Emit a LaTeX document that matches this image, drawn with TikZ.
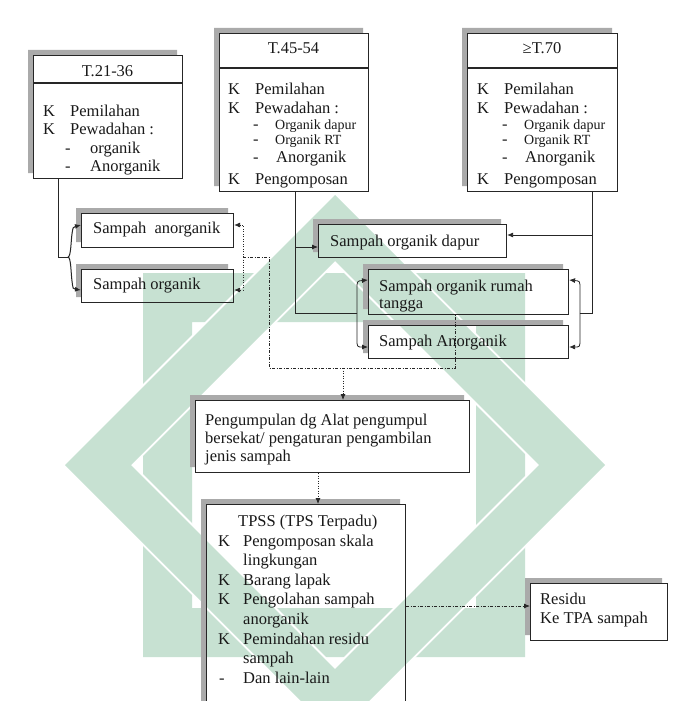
\documentclass[tikz,border=0pt]{standalone}
\usepackage{fontspec}
\setmainfont{Liberation Serif}
\usetikzlibrary{arrows.meta,calc}
\definecolor{wm}{RGB}{199,225,210}
\definecolor{shd}{RGB}{170,170,170}
\tikzset{
 boxx/.style={draw=black!85, line width=1.1pt, inner sep=0pt, anchor=north west},
 sepline/.style={draw=black!85, line width=1.1pt},
 tx/.style={font=\fontsize{16.5}{19}\selectfont, inner sep=0pt, anchor=base west, text=black!90},
 txs/.style={font=\fontsize{14}{16}\selectfont, inner sep=0pt, anchor=base west, text=black!90},
 conn/.style={draw=black!85, line width=0.8pt},
 arr/.style={conn, -{Latex[length=6pt,width=5pt]}},
 dd/.style={draw=black!85, line width=0.8pt, dash pattern=on 3pt off 1.5pt on 1pt off 1.5pt},
 dt/.style={draw=black!85, line width=0.8pt, dash pattern=on 1pt off 1.5pt},
}
\newcommand{\mkbox}[5]{%
 \fill[shd] (#2-5,#3-5) -- (#4-5,#3-5) -- (#4-5,#3) -- (#2,#3) -- (#2,#5-5) -- (#2-5,#5-5) -- cycle;
 \node[boxx, minimum width=#4-#2, minimum height=#5-#3] (#1) at (#2,#3) {};
}
\begin{document}
\begin{tikzpicture}[x=1pt,y=-1pt]
\useasboundingbox (0,0) rectangle (685,701);
\clip (0,0) rectangle (685,701);
\fill[white] (0,0) rectangle (685,701);
% watermark
\fill[wm, even odd rule] (143,273) rectangle (525,657) (192,322) rectangle (476,608);
\draw[white, line width=4pt, line join=miter] (335,195) -- (605,465) -- (335,735) -- (65,465) -- cycle;
\draw[white, line width=4pt, line join=miter] (335,261) -- (539,465) -- (335,669) -- (131,465) -- cycle;
\fill[wm, even odd rule] (335,195) -- (605,465) -- (335,735) -- (65,465) -- cycle
  (335,261) -- (539,465) -- (335,669) -- (131,465) -- cycle;
% boxes
\mkbox{A}{33}{55}{182}{178}
\mkbox{B}{219}{33}{368}{191}
\mkbox{C}{467}{33}{617}{191}
\mkbox{SA}{81}{213}{233}{247}
\mkbox{SO}{81}{269}{233}{302}
\mkbox{OD}{318}{224}{506}{257}
\mkbox{RT}{368}{269}{568}{314}
\mkbox{AN}{368}{325}{568}{358}
\mkbox{PG}{195}{400}{469}{472}
\mkbox{TP}{206}{504}{405}{720}
\mkbox{RS}{530}{583}{667}{640}
\draw[sepline] (A.west |- 0,83) -- (A.east |- 0,83);
\draw[sepline] (B.west |- 0,68) -- (B.east |- 0,68);
\draw[sepline] (C.west |- 0,68) -- (C.east |- 0,68);
% texts A
\node[tx, anchor=base] (At) at (107.5,77) {T.21-36};
\node[tx] (Ak1) at (43,116) {K}; \node[tx] (Ai1) at (70,116) {Pemilahan};
\node[tx] (Ak2) at (43,134) {K}; \node[tx] (Ai2) at (70,134) {Pewadahan :};
\node[tx] (Ad1) at (65,153) {-}; \node[tx] (Ai3) at (90,153) {organik};
\node[tx] (Ad2) at (65,171) {-}; \node[tx] (Ai4) at (90,171) {Anorganik};
% texts B
\node[tx, anchor=base] (Bt) at (293.5,54) {T.45-54};
\node[tx] (Bk1) at (228,94) {K}; \node[tx] (Bi1) at (255,94) {Pemilahan};
\node[tx] (Bk2) at (228,113) {K}; \node[tx] (Bi2) at (255,113) {Pewadahan :};
\node[tx] (Bd1) at (253,129) {-}; \node[txs] (Bi3) at (275,129) {Organik dapur};
\node[tx] (Bd2) at (253,144) {-}; \node[txs] (Bi4) at (275,144) {Organik RT};
\node[tx] (Bd3) at (253,162) {-}; \node[tx] (Bi5) at (276,162) {Anorganik};
\node[tx] (Bk3) at (228,184) {K}; \node[tx] (Bi6) at (255,184) {Pengomposan};
% texts C
\node[tx, anchor=base] (Ct) at (542,54) {≥T.70};
\node[tx] (Ck1) at (477,94) {K}; \node[tx] (Ci1) at (504,94) {Pemilahan};
\node[tx] (Ck2) at (477,113) {K}; \node[tx] (Ci2) at (504,113) {Pewadahan :};
\node[tx] (Cd1) at (502,129) {-}; \node[txs] (Ci3) at (524,129) {Organik dapur};
\node[tx] (Cd2) at (502,144) {-}; \node[txs] (Ci4) at (524,144) {Organik RT};
\node[tx] (Cd3) at (502,162) {-}; \node[tx] (Ci5) at (525,162) {Anorganik};
\node[tx] (Ck3) at (477,184) {K}; \node[tx] (Ci6) at (504,184) {Pengomposan};
% simple box texts
\node[tx] (SAt) at (93,233) {Sampah\ \ anorganik};
\node[tx] (SOt) at (93,289) {Sampah organik};
\node[tx] (ODt) at (330,246) {Sampah organik dapur};
\node[tx] (RTt1) at (379,291) {Sampah organik rumah};
\node[tx] (RTt2) at (379,308) {tangga};
\node[tx] (ANt) at (379,346) {Sampah Anorganik};
\node[tx] (PG1) at (205,425) {Pengumpulan dg Alat pengumpul};
\node[tx] (PG2) at (205,443) {bersekat/ pengaturan pengambilan};
\node[tx] (PG3) at (205,461) {jenis sampah};
\node[tx] (TPt) at (238,526) {TPSS (TPS Terpadu)};
\node[tx] (Tk1) at (218,546) {K}; \node[tx] (Ti1) at (243,546) {Pengomposan skala};
\node[tx] (Ti2) at (243,565.6) {lingkungan};
\node[tx] (Tk3) at (218,585.2) {K}; \node[tx] (Ti3) at (243,585.2) {Barang lapak};
\node[tx] (Tk4) at (218,604.8) {K}; \node[tx] (Ti4) at (243,604.8) {Pengolahan sampah};
\node[tx] (Ti5) at (243,624.4) {anorganik};
\node[tx] (Tk6) at (218,644) {K}; \node[tx] (Ti6) at (243,644) {Pemindahan residu};
\node[tx] (Ti7) at (243,663.6) {sampah};
\node[tx] (Td8) at (219,683.2) {-}; \node[tx] (Ti8) at (243,683.2) {Dan lain-lain};
\node[tx] (RS1) at (540,604) {Residu};
\node[tx] (RS2) at (540,623) {Ke TPA sampah};
% connectors left group
\coordinate (j1) at (58,257);
\coordinate (j2) at (68,257);
\draw[conn] (A.south -| j1) -- (j1) -- (j2);
\draw[arr, line width=1pt] (j2) .. controls (71,257) and (71,240) .. (72,234) .. controls (73,227) .. (SA.west |- 0,225);
\draw[arr, line width=1pt] (j2) .. controls (71,257) and (71,274) .. (72,281) .. controls (73,289) .. (SO.west |- 0,290);
\coordinate (k1) at (243,257);
\draw[arr, dt] (k1) -- (243,225) -- (SA.east |- 0,225);
\draw[arr, dt] (k1) -- (243,290) -- (SO.east |- 0,290);
\coordinate (k2) at (269,368);
\coordinate (k3) at (343,368);
\coordinate (k4) at (455,368);
\draw[dd] (k1) -- (269,257) -- (k2) -- (k4) -- (RT.south -| k4);
\draw[arr, dt] (k3) -- (PG.north -| k3);
\coordinate (k5) at (318,472);
\draw[arr, dt] (PG.south -| k5) -- (TP.north -| k5);
\draw[arr, dd] (TP.east |- 0,606) -- (RS.west |- 0,606);
% connectors right group
\coordinate (b1) at (295,313);
\coordinate (b2) at (357,313);
\draw[conn] (B.south -| b1) -- (b1) -- (b2);
\draw[arr] (295,247) -- (OD.west |- 0,247);
\coordinate (c1) at (592,313);
\coordinate (c2) at (580,313);
\draw[conn] (C.south -| c1) -- (c1) -- (c2);
\draw[arr] (592,235) -- (OD.east |- 0,235);
\draw[arr] (b2) -- (357,289) .. controls (357,281) .. (RT.west |- 0,280);
\draw[arr] (b2) -- (357,339) .. controls (357,347) .. (AN.west |- 0,347);
\draw[arr] (c2) -- (580,289) .. controls (580,281) .. (RT.east |- 0,280);
\draw[arr] (c2) -- (580,339) .. controls (580,347) .. (AN.east |- 0,347);
\end{tikzpicture}
\end{document}
